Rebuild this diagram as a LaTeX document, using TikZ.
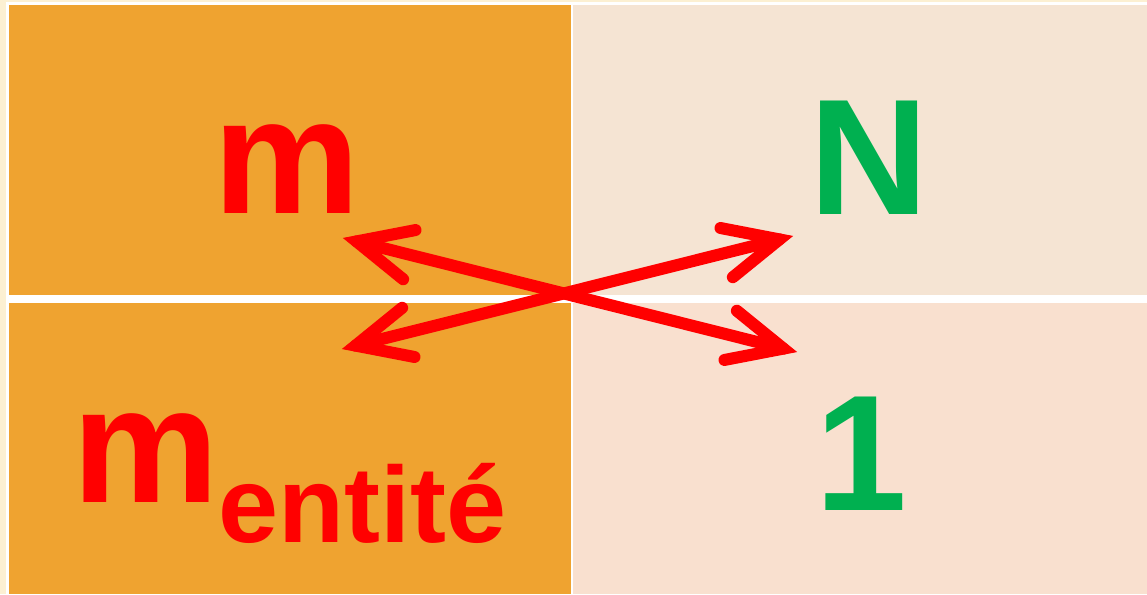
\documentclass[tikz,border=0pt]{standalone}
\usepackage{fontspec}
\setmainfont{Liberation Sans}
\usetikzlibrary{calc}
\definecolor{bgcream}{HTML}{FCF0D2}
\definecolor{cellorange}{HTML}{EFA330}
\definecolor{celltop}{HTML}{F5E4D3}
\definecolor{cellbot}{HTML}{F9E0CF}
\definecolor{txtgreen}{HTML}{00B050}
\definecolor{arrred}{HTML}{FF0000}
\tikzset{
  bigtxt/.style={inner sep=0pt, anchor=base, font=\bfseries\fontsize{165}{165}\selectfont},
  redtxt/.style={bigtxt, text=arrred},
  greentxt/.style={bigtxt, text=txtgreen},
  shaft/.style={draw=arrred, line width=12pt, line cap=round},
  head/.style={draw=arrred, line width=12pt, line cap=round, line join=miter, miter limit=10},
}
\begin{document}
\begin{tikzpicture}[x=1pt,y=-1pt]
\useasboundingbox (0,0) rectangle (1147,594);
\fill[bgcream] (0,0) rectangle (1147,594);
\fill[white] (6,2.5) rectangle (1147,594);
% cells
\fill[cellorange] (9,5) rectangle (571,295);
\fill[cellorange] (9,303) rectangle (571,594);
\fill[celltop] (573,5) rectangle (1147,295);
\fill[cellbot] (573,303) rectangle (1147,594);
% texts
\node[redtxt] (m) at (286.5,213) {m};
\node[greentxt] (N) at (869.5,214) {N};
\node[redtxt, anchor=base west] (ment) at (72,502) {m\raisebox{-40pt}{\fontsize{108}{108}\selectfont entité}};
\node[greentxt] (one) at (861,510) {1};
% visible arrow tips
\coordinate (ta1) at (343,238);
\coordinate (ta2) at (797,352);
\coordinate (tb1) at (342,349);
\coordinate (tb2) at (793,236);
% path vertices (miter point lies ~14 units beyond them)
\coordinate (a1) at ($(ta1)!14pt!(ta2)$);
\coordinate (a2) at ($(ta2)!14pt!(ta1)$);
\coordinate (b1) at ($(tb1)!14pt!(tb2)$);
\coordinate (b2) at ($(tb2)!14pt!(tb1)$);
% shafts
\draw[shaft] (a1) -- (a2);
\draw[shaft] (b1) -- (b2);
% heads
\draw[head] ($(a1)!60pt!25:(a2)$) -- (a1) -- ($(a1)!60pt!-25:(a2)$);
\draw[head] ($(a2)!60pt!25:(a1)$) -- (a2) -- ($(a2)!60pt!-25:(a1)$);
\draw[head] ($(b1)!60pt!25:(b2)$) -- (b1) -- ($(b1)!60pt!-25:(b2)$);
\draw[head] ($(b2)!60pt!25:(b1)$) -- (b2) -- ($(b2)!60pt!-25:(b1)$);
\end{tikzpicture}
\end{document}
